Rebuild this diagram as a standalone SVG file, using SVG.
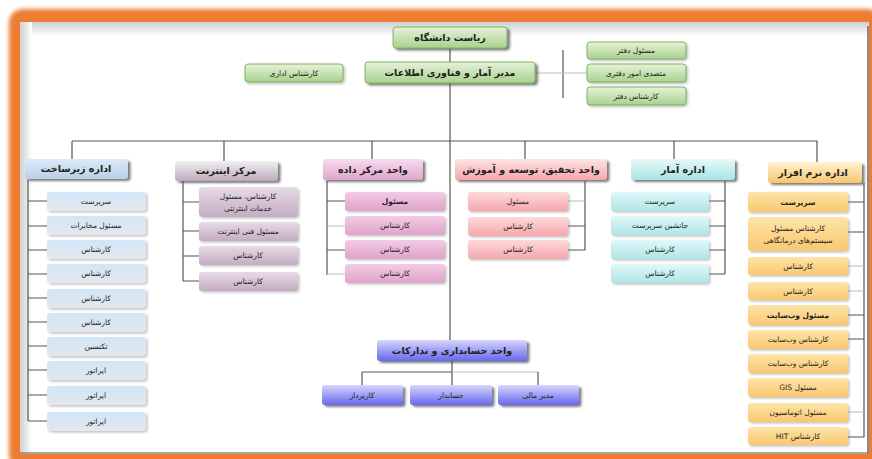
<svg xmlns="http://www.w3.org/2000/svg" width="872" height="459" viewBox="0 0 872 459">
<defs>
<linearGradient id="gGreen" x1="0" y1="0" x2="0" y2="1"><stop offset="0" stop-color="#e6f2d9"/><stop offset="1" stop-color="#a9d18e"/></linearGradient>
<linearGradient id="gBlueH" x1="0" y1="0" x2="0" y2="1"><stop offset="0" stop-color="#dce9f7"/><stop offset="1" stop-color="#b9d0e8"/></linearGradient>
<linearGradient id="gBlueC" x1="0" y1="0" x2="0" y2="1"><stop offset="0" stop-color="#d3e5f7"/><stop offset="1" stop-color="#e2e8ee"/></linearGradient>
<linearGradient id="gInetH" x1="0" y1="0" x2="0" y2="1"><stop offset="0" stop-color="#efefef"/><stop offset="1" stop-color="#bfaabd"/></linearGradient>
<linearGradient id="gInetC" x1="0" y1="0" x2="0" y2="1"><stop offset="0" stop-color="#e6dbe5"/><stop offset="1" stop-color="#c4acc2"/></linearGradient>
<linearGradient id="gPinkH" x1="0" y1="0" x2="0" y2="1"><stop offset="0" stop-color="#f7dcee"/><stop offset="1" stop-color="#dfa5cb"/></linearGradient>
<linearGradient id="gPinkC" x1="0" y1="0" x2="0" y2="1"><stop offset="0" stop-color="#f3cbe5"/><stop offset="1" stop-color="#dea3c9"/></linearGradient>
<linearGradient id="gRedH" x1="0" y1="0" x2="0" y2="1"><stop offset="0" stop-color="#fde4e4"/><stop offset="1" stop-color="#f6a6ab"/></linearGradient>
<linearGradient id="gRedC" x1="0" y1="0" x2="0" y2="1"><stop offset="0" stop-color="#fdd9da"/><stop offset="1" stop-color="#f5a8ad"/></linearGradient>
<linearGradient id="gCyanH" x1="0" y1="0" x2="0" y2="1"><stop offset="0" stop-color="#e6fafa"/><stop offset="1" stop-color="#a8e3e3"/></linearGradient>
<linearGradient id="gCyanC" x1="0" y1="0" x2="0" y2="1"><stop offset="0" stop-color="#e0f8f8"/><stop offset="1" stop-color="#b0e6e6"/></linearGradient>
<linearGradient id="gOrH" x1="0" y1="0" x2="0" y2="1"><stop offset="0" stop-color="#fff2cf"/><stop offset="1" stop-color="#f9c56e"/></linearGradient>
<linearGradient id="gOrC" x1="0" y1="0" x2="0" y2="1"><stop offset="0" stop-color="#fde4a8"/><stop offset="1" stop-color="#f9c870"/></linearGradient>
<linearGradient id="gViolet" x1="0" y1="0" x2="0" y2="1"><stop offset="0" stop-color="#d6d6fc"/><stop offset="1" stop-color="#6767ef"/></linearGradient>
<linearGradient id="gTopBevel" x1="0" y1="0" x2="0" y2="1"><stop offset="0" stop-color="#cfcfcf"/><stop offset="1" stop-color="#ffffff"/></linearGradient>
<linearGradient id="gLeftBevel" x1="0" y1="0" x2="1" y2="0"><stop offset="0" stop-color="#cfcfcf"/><stop offset="1" stop-color="#ffffff"/></linearGradient>
<filter id="shH" x="-10%" y="-20%" width="125%" height="160%"><feDropShadow dx="2.5" dy="2" stdDeviation="1" flood-color="#444" flood-opacity="0.7"/></filter>
<filter id="shC" x="-10%" y="-20%" width="125%" height="160%"><feDropShadow dx="1.5" dy="1.5" stdDeviation="1.2" flood-color="#777" flood-opacity="0.45"/></filter>
<filter id="blur"><feGaussianBlur stdDeviation="2"/></filter>
<style>
text{font-family:"DejaVu Sans","Noto Sans",sans-serif;text-anchor:middle;direction:rtl;fill:#222}
.h{font-size:9.5px;font-weight:bold}
.c{font-size:7.5px}
.ln{stroke:#555;stroke-width:1.2;fill:none}
.lf{stroke:#bbb;stroke-width:1;fill:none}
.hd{filter:url(#shH)}
.ch{filter:url(#shC)}
</style>
</defs>

<!-- frame -->
<rect x="0" y="0" width="872" height="459" fill="#ffffff"/>
<rect x="9" y="9" width="872" height="460" rx="14" fill="#ed7d31" filter="url(#blur)"/>
<rect x="20" y="22" width="849" height="432" fill="#ffffff"/>
<rect x="20" y="22" width="849" height="14" fill="url(#gTopBevel)"/>
<rect x="20" y="22" width="12" height="432" fill="url(#gLeftBevel)"/>
<line x1="868" y1="26" x2="868" y2="454" stroke="#666" stroke-width="1.5"/>
<line x1="20" y1="453" x2="869" y2="453" stroke="#888" stroke-width="1.5"/>

<!-- connectors -->
<g id="connectors">
<path class="ln" d="M450 48V62M450 83V340M72 141H817V162M72 141V159M224 141V161M372 141V159M525 141V159M674 141V159"/>
<path class="ln" d="M563 50V98"/>
<path class="lf" d="M536 73H587"/>
<!-- infra -->
<path class="ln" d="M28 180V421M28 201H47M28 226H47M28 250H47M28 274H47M28 298H47M28 322H47M28 346H47M28 370H47M28 395H47M28 421H47"/>
<!-- internet -->
<path class="ln" d="M183 181V281M183 202H199M183 231H199M183 256H199M183 281H199"/>
<!-- data center -->
<path class="ln" d="M327 181V275M327 201H345M327 250H345"/>
<path class="lf" d="M327 226H345M327 274H345"/>
<!-- R&D -->
<path class="ln" d="M585 181V250M568 226H585M568 250H585"/>
<path class="lf" d="M568 201H585"/>
<!-- stats -->
<path class="ln" d="M725 181V274M709 201H725M709 226H725M709 250H725M709 274H725"/>
<!-- software -->
<path class="ln" d="M864 183V437M848 202H864M848 232H864M848 315H864M848 339H864M848 437H864"/>
<path class="lf" d="M848 266H864M848 291H864M848 412H864"/>
<!-- accounting -->
<path class="ln" d="M362 372H452M362 372V385M452 361V385"/>
<path class="lf" d="M452 372H538"/>
<path class="ln" d="M538 372V385"/>
</g>

<!-- top -->
<g id="n-riasat"><rect class="hd" x="393" y="27" width="114" height="21" rx="3" fill="url(#gGreen)" stroke="#7fb461"/><text class="h" x="450" y="41">ریاست دانشگاه</text></g>
<g id="n-modir"><rect class="hd" x="365" y="62" width="170" height="21" rx="3" fill="url(#gGreen)" stroke="#7fb461"/><text class="h" x="450" y="76">مدیر آمار و فناوری اطلاعات</text></g>
<g id="n-edari"><rect class="ch" x="245" y="64" width="98" height="18" rx="3" fill="url(#gGreen)" stroke="#7fb461"/><text class="c" x="294" y="76">کارشناس اداری</text></g>
<g id="n-daftar1"><rect class="ch" x="587" y="42" width="99" height="17" rx="3" fill="url(#gGreen)" stroke="#7fb461"/><text class="c" x="636" y="53">مسئول دفتر</text></g>
<g id="n-daftar2"><rect class="ch" x="587" y="64" width="99" height="18" rx="3" fill="url(#gGreen)" stroke="#7fb461"/><text class="c" x="636" y="76">متصدی امور دفتری</text></g>
<g id="n-daftar3"><rect class="ch" x="587" y="87" width="99" height="18" rx="3" fill="url(#gGreen)" stroke="#7fb461"/><text class="c" x="636" y="99">کارشناس دفتر</text></g>

<!-- infra -->
<g id="n-infra"><rect class="hd" x="25" y="159" width="103" height="20" rx="3" fill="url(#gBlueH)"/><text class="h" x="76" y="172">اداره زیرساخت</text></g>
<g id="n-infra1"><rect class="ch" x="47" y="192" width="99" height="19" rx="3" fill="url(#gBlueC)"/><text class="c" x="96" y="204">سرپرست</text></g>
<g id="n-infra2"><rect class="ch" x="47" y="216" width="99" height="19" rx="3" fill="url(#gBlueC)"/><text class="c" x="96" y="228">مسئول مخابرات</text></g>
<g id="n-infra3"><rect class="ch" x="47" y="240" width="99" height="19" rx="3" fill="url(#gBlueC)"/><text class="c" x="96" y="252">کارشناس</text></g>
<g id="n-infra4"><rect class="ch" x="47" y="264" width="99" height="19" rx="3" fill="url(#gBlueC)"/><text class="c" x="96" y="276">کارشناس</text></g>
<g id="n-infra5"><rect class="ch" x="47" y="289" width="99" height="19" rx="3" fill="url(#gBlueC)"/><text class="c" x="96" y="301">کارشناس</text></g>
<g id="n-infra6"><rect class="ch" x="47" y="313" width="99" height="19" rx="3" fill="url(#gBlueC)"/><text class="c" x="96" y="325">کارشناس</text></g>
<g id="n-infra7"><rect class="ch" x="47" y="337" width="99" height="19" rx="3" fill="url(#gBlueC)"/><text class="c" x="96" y="349">تکنسین</text></g>
<g id="n-infra8"><rect class="ch" x="47" y="361" width="99" height="19" rx="3" fill="url(#gBlueC)"/><text class="c" x="96" y="373">اپراتور</text></g>
<g id="n-infra9"><rect class="ch" x="47" y="386" width="99" height="19" rx="3" fill="url(#gBlueC)"/><text class="c" x="96" y="398">اپراتور</text></g>
<g id="n-infra10"><rect class="ch" x="47" y="412" width="99" height="19" rx="3" fill="url(#gBlueC)"/><text class="c" x="96" y="424">اپراتور</text></g>

<!-- internet -->
<g id="n-inet"><rect class="hd" x="175" y="161" width="103" height="20" rx="3" fill="url(#gInetH)"/><text class="h" x="226" y="174">مرکز اینترنت</text></g>
<g id="n-inet1"><rect class="ch" x="199" y="187" width="99" height="30" rx="4" fill="url(#gInetC)"/><text class="c" x="248" y="199">کارشناس، مسئول</text><text class="c" x="248" y="211">خدمات اینترنتی</text></g>
<g id="n-inet2"><rect class="ch" x="199" y="222" width="99" height="19" rx="3" fill="url(#gInetC)"/><text class="c" x="248" y="234">مسئول فنی اینترنت</text></g>
<g id="n-inet3"><rect class="ch" x="199" y="246" width="99" height="19" rx="3" fill="url(#gInetC)"/><text class="c" x="248" y="258">کارشناس</text></g>
<g id="n-inet4"><rect class="ch" x="199" y="272" width="99" height="19" rx="3" fill="url(#gInetC)"/><text class="c" x="248" y="284">کارشناس</text></g>

<!-- data center -->
<g id="n-dc"><rect class="hd" x="323" y="159" width="100" height="21" rx="3" fill="url(#gPinkH)"/><text class="h" x="373" y="173">واحد مرکز داده</text></g>
<g id="n-dc1"><rect class="ch" x="345" y="192" width="100" height="19" rx="3" fill="url(#gPinkC)"/><text class="c" x="395" y="204" font-weight="bold">مسئول</text></g>
<g id="n-dc2"><rect class="ch" x="345" y="216" width="100" height="19" rx="3" fill="url(#gPinkC)"/><text class="c" x="395" y="228">کارشناس</text></g>
<g id="n-dc3"><rect class="ch" x="345" y="240" width="100" height="19" rx="3" fill="url(#gPinkC)"/><text class="c" x="395" y="252">کارشناس</text></g>
<g id="n-dc4"><rect class="ch" x="345" y="264" width="100" height="19" rx="3" fill="url(#gPinkC)"/><text class="c" x="395" y="276">کارشناس</text></g>

<!-- R&D -->
<g id="n-rd"><rect class="hd" x="455" y="159" width="152" height="21" rx="3" fill="url(#gRedH)"/><text class="h" x="531" y="173">واحد تحقیق، توسعه و آموزش</text></g>
<g id="n-rd1"><rect class="ch" x="468" y="192" width="100" height="19" rx="3" fill="url(#gRedC)"/><text class="c" x="518" y="204">مسئول</text></g>
<g id="n-rd2"><rect class="ch" x="468" y="217" width="100" height="19" rx="3" fill="url(#gRedC)"/><text class="c" x="518" y="229">کارشناس</text></g>
<g id="n-rd3"><rect class="ch" x="468" y="240" width="100" height="19" rx="3" fill="url(#gRedC)"/><text class="c" x="518" y="252">کارشناس</text></g>

<!-- stats -->
<g id="n-stat"><rect class="hd" x="631" y="159" width="104" height="21" rx="3" fill="url(#gCyanH)"/><text class="h" x="683" y="173">اداره آمار</text></g>
<g id="n-stat1"><rect class="ch" x="611" y="192" width="98" height="19" rx="3" fill="url(#gCyanC)"/><text class="c" x="660" y="204">سرپرست</text></g>
<g id="n-stat2"><rect class="ch" x="611" y="216" width="98" height="19" rx="3" fill="url(#gCyanC)"/><text class="c" x="660" y="228">جانشین سرپرست</text></g>
<g id="n-stat3"><rect class="ch" x="611" y="240" width="98" height="19" rx="3" fill="url(#gCyanC)"/><text class="c" x="660" y="252">کارشناس</text></g>
<g id="n-stat4"><rect class="ch" x="611" y="264" width="98" height="19" rx="3" fill="url(#gCyanC)"/><text class="c" x="660" y="276">کارشناس</text></g>

<!-- software -->
<g id="n-sw"><rect class="hd" x="768" y="162" width="94" height="21" rx="3" fill="url(#gOrH)"/><text class="h" x="813" y="176">اداره نرم افزار</text></g>
<g id="n-sw1"><rect class="ch" x="748" y="192" width="100" height="20" rx="3" fill="url(#gOrC)"/><text class="c" x="798" y="205" font-weight="bold">سرپرست</text></g>
<g id="n-sw2"><rect class="ch" x="748" y="217" width="100" height="34" rx="4" fill="url(#gOrC)"/><text class="c" x="798" y="231">کارشناس مسئول</text><text class="c" x="798" y="243">سیستم‌های درمانگاهی</text></g>
<g id="n-sw3"><rect class="ch" x="748" y="257" width="100" height="18" rx="3" fill="url(#gOrC)"/><text class="c" x="798" y="269">کارشناس</text></g>
<g id="n-sw4"><rect class="ch" x="748" y="282" width="100" height="18" rx="3" fill="url(#gOrC)"/><text class="c" x="798" y="294">کارشناس</text></g>
<g id="n-sw5"><rect class="ch" x="748" y="305" width="100" height="20" rx="3" fill="url(#gOrC)"/><text class="c" x="798" y="318" font-weight="bold">مسئول وب‌سایت</text></g>
<g id="n-sw6"><rect class="ch" x="748" y="330" width="100" height="19" rx="3" fill="url(#gOrC)"/><text class="c" x="798" y="342">کارشناس وب‌سایت</text></g>
<g id="n-sw7"><rect class="ch" x="748" y="354" width="100" height="19" rx="3" fill="url(#gOrC)"/><text class="c" x="798" y="366">کارشناس وب‌سایت</text></g>
<g id="n-sw8"><rect class="ch" x="748" y="378" width="100" height="19" rx="3" fill="url(#gOrC)"/><text class="c" x="798" y="390">مسئول GIS</text></g>
<g id="n-sw9"><rect class="ch" x="748" y="403" width="100" height="19" rx="3" fill="url(#gOrC)"/><text class="c" x="798" y="415">مسئول اتوماسیون</text></g>
<g id="n-sw10"><rect class="ch" x="748" y="427" width="100" height="18" rx="3" fill="url(#gOrC)"/><text class="c" x="798" y="439">کارشناس HIT</text></g>

<!-- accounting -->
<g id="n-acc"><rect class="hd" x="377" y="340" width="150" height="21" rx="3" fill="url(#gViolet)"/><text class="h" x="452" y="354">واحد حسابداری و تدارکات</text></g>
<g id="n-acc1"><rect class="hd" x="322" y="385" width="81" height="20" rx="3" fill="url(#gViolet)"/><text class="c" x="362" y="398">کارپرداز</text></g>
<g id="n-acc2"><rect class="hd" x="410" y="385" width="82" height="20" rx="3" fill="url(#gViolet)"/><text class="c" x="451" y="398">حسابدار</text></g>
<g id="n-acc3"><rect class="hd" x="498" y="385" width="81" height="20" rx="3" fill="url(#gViolet)"/><text class="c" x="538" y="398">مدیر مالی</text></g>
</svg>
